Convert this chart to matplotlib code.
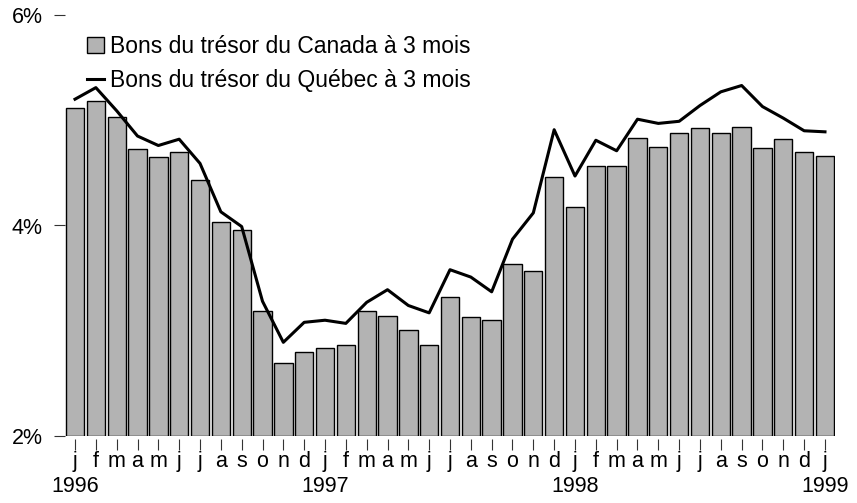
import matplotlib

matplotlib.use("Agg")

import matplotlib.pyplot as plt
import matplotlib.transforms as mtransforms
from matplotlib.lines import Line2D
from matplotlib.patches import Patch

plt.rcParams["font.family"] = ["Liberation Sans", "DejaVu Sans"]

months = ["j", "f", "m", "a", "m", "j", "j", "a", "s", "o", "n", "d"] * 3 + ["j"]
year_pos = [0, 12, 24, 36]
year_labels = ["1996", "1997", "1998", "1999"]

canada = [5.12, 5.18, 5.03, 4.73, 4.65, 4.70, 4.43, 4.03, 3.96, 3.19, 2.69, 2.80,
          2.84, 2.86, 3.19, 3.14, 3.01, 2.86, 3.32, 3.13, 3.10, 3.63, 3.57, 4.46,
          4.18, 4.57, 4.57, 4.83, 4.75, 4.88, 4.93, 4.88, 4.94, 4.74, 4.82, 4.70,
          4.66]
quebec = [5.20, 5.31, 5.09, 4.85, 4.76, 4.82, 4.59, 4.13, 3.99, 3.28, 2.89, 3.08,
          3.10, 3.07, 3.27, 3.39, 3.24, 3.17, 3.58, 3.51, 3.37, 3.87, 4.12, 4.91,
          4.47, 4.81, 4.71, 5.01, 4.97, 4.99, 5.14, 5.27, 5.33, 5.13, 5.02, 4.90,
          4.89]

BAR_GREY = "#b3b3b3"
FS = 15.5
FS_LEG = 16.5

fig = plt.figure(figsize=(8.57, 5.03), dpi=100)
W, H = 857, 503
ax = fig.add_axes([64.6 / W, 67 / H, 770.8 / W, 421 / H])

x = list(range(len(canada)))
base = 2.0
ax.bar(x, [v - base for v in canada], bottom=base, width=0.88,
       color=BAR_GREY, edgecolor="black", linewidth=1.0, zorder=2)
ax.plot(x, quebec, color="black", linewidth=2.2, zorder=3)

ax.set_xlim(-0.5, len(canada) - 0.5)
ax.set_ylim(2, 6)

for s in ax.spines.values():
    s.set_visible(False)

ax.set_yticks([2, 4, 6])
ax.set_yticklabels(["2%", "4%", "6%"], fontsize=FS)
ax.tick_params(axis="y", length=8, width=0.8, pad=8, color="#333333")

ax.set_xticks(x)
ax.set_xticklabels(months, fontsize=FS)
ax.tick_params(axis="x", length=8, width=0.8, pad=3, direction="out", color="#333333")
# tick marks start a little below the baseline
offset = mtransforms.ScaledTranslation(0, -2 / 72, fig.dpi_scale_trans)
for t in ax.xaxis.get_major_ticks():
    t.tick1line.set_transform(t.tick1line.get_transform() + offset)

year_tr = mtransforms.blended_transform_factory(ax.transData, fig.transFigure)
for p, lab in zip(year_pos, year_labels):
    ax.text(p, (H - 487) / H, lab, transform=year_tr, ha="center", va="center",
            fontsize=FS, clip_on=False)

handles = [
    Patch(facecolor=BAR_GREY, edgecolor="black", linewidth=1.0),
    Line2D([0], [0], color="black", linewidth=2.2),
]
ax.legend(handles, ["Bons du trésor du Canada à 3 mois", "Bons du trésor du Québec à 3 mois"],
          loc="upper left", bbox_to_anchor=(87 / W, (H - 35) / H), bbox_transform=fig.transFigure,
          frameon=False, fontsize=FS_LEG, handlelength=0.75, handleheight=0.7,
          handletextpad=0.25, labelspacing=0.5, borderpad=0, borderaxespad=0)

fig.savefig("out.png", dpi=100)
